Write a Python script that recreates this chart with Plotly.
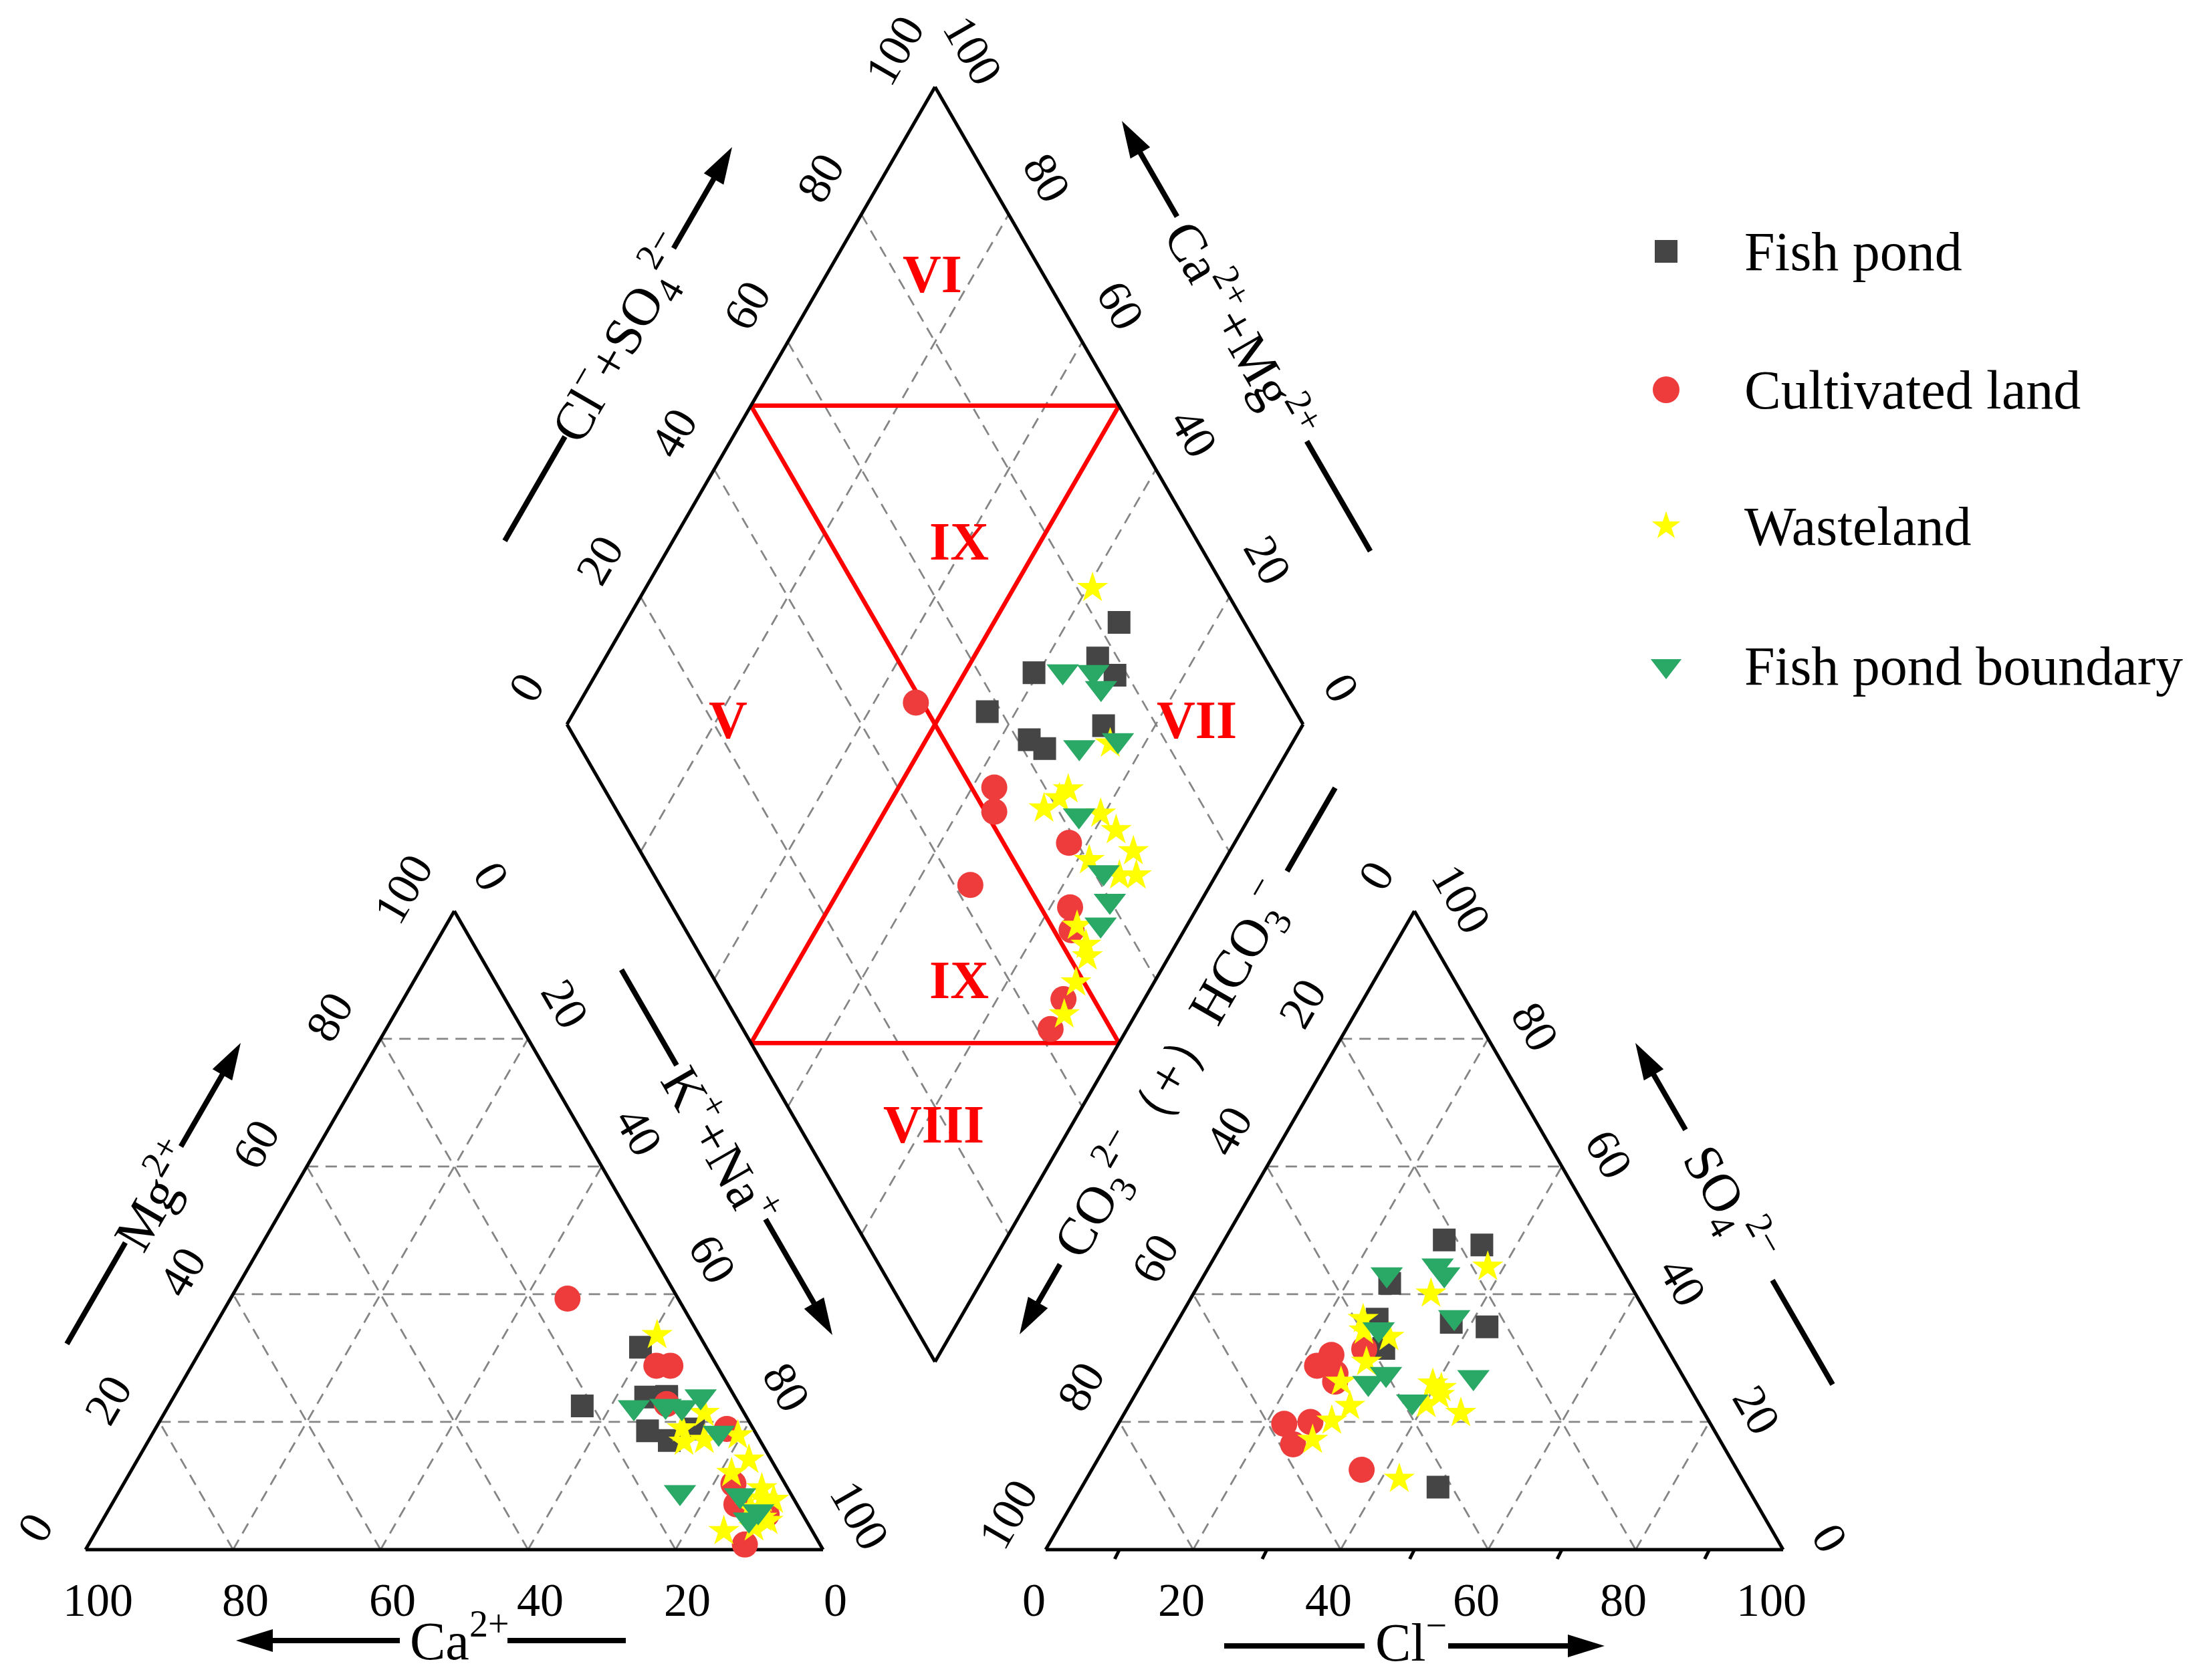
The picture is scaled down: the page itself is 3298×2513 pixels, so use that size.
import numpy as np
import plotly.graph_objects as go

W, HGT = 3298, 2513

# ---------------- data: percent of meq/L ----------------
# Fish pond
fp_ca   = [21.4, 8.9, 12.1, 9.2, 14.5, 9.4, 12.3, 8.1]
fp_mg   = [22.5, 31.7, 23.9, 24.0, 18.6, 23.6, 17.1, 18.9]
fp_nak  = [56.1, 59.4, 64.0, 66.8, 66.9, 67.0, 70.6, 73.0]
fp_hco3 = [41.9, 32.5, 38.4, 37.0, 22.7, 17.0, 21.7, 27.2]
fp_so4  = [9.8, 41.7, 31.5, 36.1, 34.9, 47.7, 48.5, 35.6]
fp_cl   = [48.3, 25.8, 30.1, 26.9, 42.4, 35.3, 29.8, 37.2]

# Cultivated land
cu_ca   = [15.0, 8.2, 6.3, 3.6, 9.8, 7.0, 8.2, 10.2, 4.9]
cu_mg   = [39.3, 28.8, 28.8, 18.9, 22.8, 10.3, 7.1, 0.8, 5.5]
cu_nak  = [45.7, 63.0, 64.9, 77.5, 67.4, 82.7, 84.7, 89.0, 89.6]
cu_hco3 = [50.9, 46.9, 48.8, 41.1, 57.8, 46.0, 47.6, 54.1, 58.2]
cu_so4  = [12.5, 27.6, 28.8, 31.4, 19.7, 30.5, 26.3, 20.0, 16.5]
cu_cl   = [36.6, 25.5, 22.4, 27.5, 22.5, 23.5, 26.1, 25.9, 25.3]

# Wasteland
ws_ca   = [5.7, 7.5, 5.4, 9.6, 10.4, 2.6, 3.0, 6.6, 6.4, 3.5, 5.8, 12.0, 4.2, 7.6, 2.8, 5.2]
ws_mg   = [33.6, 17.2, 21.4, 19.0, 16.9, 17.9, 14.1, 6.5, 12.0, 9.6, 5.0, 2.9, 8.0, 3.5, 7.8, 4.5]
ws_nak  = [60.7, 75.3, 73.2, 71.4, 72.7, 79.5, 82.9, 86.9, 81.6, 86.9, 89.2, 85.1, 87.8, 88.9, 89.4, 90.3]
ws_hco3 = [17.9, 27.7, 37.0, 41.8, 38.9, 34.5, 33.7, 33.0, 39.7, 36.8, 34.5, 46.5, 46.8, 47.5, 51.1, 55.2]
ws_so4  = [44.3, 40.1, 22.8, 29.4, 36.1, 24.2, 25.3, 21.4, 34.3, 33.3, 26.0, 11.1, 26.3, 22.5, 20.2, 17.2]
ws_cl   = [37.8, 32.2, 40.2, 28.8, 25.0, 41.3, 41.0, 45.6, 26.0, 29.9, 39.5, 42.4, 26.9, 30.0, 28.7, 27.6]

# Fish pond boundary
fb_ca   = [14.5, 10.1, 8.0, 4.6, 14.9, 5.0, 7.0, 7.7, 5.8]
fb_mg   = [22.3, 22.5, 22.3, 24.0, 9.0, 18.3, 8.5, 4.7, 6.0]
fb_nak  = [63.2, 67.4, 69.7, 71.4, 76.1, 76.7, 84.5, 87.6, 88.2]
fb_hco3 = [28.5, 24.4, 24.6, 32.2, 26.4, 37.6, 38.7, 40.1, 43.2]
fb_so4  = [27.0, 43.1, 44.5, 43.1, 36.4, 34.5, 23.2, 27.5, 26.1]
fb_cl   = [44.5, 32.5, 30.9, 24.7, 37.2, 27.9, 38.1, 32.4, 30.7]

group_names = ["Fish pond", "Cultivated land", "Wasteland", "Fish pond boundary"]
TICKS = [0, 20, 40, 60, 80, 100]
GRID = [20, 40, 60, 80]

# ---------------- geometry (pixel frame) ----------------
S = 1103.0
H = S * np.sqrt(3) / 2
CX0, CY0 = 128.0, 2318.0      # cation triangle, Ca corner
AX0, AY0 = 1564.0, 2318.0     # anion triangle, HCO3 corner
DX0, DY0 = 848.0, 1083.5      # diamond left vertex
SD = 1101.0
HD = SD * np.sqrt(3) / 2


def cat_xy(ca, mg, nak):
    ca, mg, nak = (np.asarray(v, float) for v in (ca, mg, nak))
    t = ca + mg + nak
    m, n = mg / t, nak / t
    return CX0 + S * (n + m / 2), CY0 - H * m


def an_xy(hco3, so4, cl):
    hco3, so4, cl = (np.asarray(v, float) for v in (hco3, so4, cl))
    t = hco3 + so4 + cl
    s, c = so4 / t, cl / t
    return AX0 + S * (c + s / 2), AY0 - H * s


def dia_xy(n, c):
    n, c = np.asarray(n, float), np.asarray(c, float)
    return DX0 + SD * (n + c) / 2, DY0 + HD * (n - c)


def piper_points(ca, mg, nak, hco3, so4, cl):
    cx, cy = cat_xy(ca, mg, nak)
    ax, ay = an_xy(hco3, so4, cl)
    ca, mg, nak, hco3, so4, cl = (np.asarray(v, float) for v in (ca, mg, nak, hco3, so4, cl))
    n = nak / (ca + mg + nak)
    c = (cl + so4) / (hco3 + so4 + cl)
    dx, dy = dia_xy(n, c)
    return np.concatenate([cx, ax, dx]), np.concatenate([cy, ay, dy])


fig = go.Figure()


def add_segs(segs, color, width, dash=None):
    xs, ys = [], []
    for (p, q) in segs:
        xs += [float(p[0]), float(q[0]), None]
        ys += [float(p[1]), float(q[1]), None]
    fig.add_trace(go.Scatter(x=xs, y=ys, mode="lines", hoverinfo="skip", showlegend=False,
                             line=dict(color=color, width=width, dash=dash)))


# grid lines
grid = []
for v in GRID:
    f = v / 100
    grid.append((cat_xy(1 - f, f, 0), cat_xy(0, f, 1 - f)))
    grid.append((cat_xy(1 - f, 0, f), cat_xy(0, 1 - f, f)))
    grid.append((cat_xy(f, 0, 1 - f), cat_xy(f, 1 - f, 0)))
    grid.append((an_xy(1 - f, f, 0), an_xy(0, f, 1 - f)))
    grid.append((an_xy(1 - f, 0, f), an_xy(0, 1 - f, f)))
    grid.append((an_xy(f, 0, 1 - f), an_xy(f, 1 - f, 0)))
    grid.append((dia_xy(0, f), dia_xy(1, f)))
    grid.append((dia_xy(f, 0), dia_xy(f, 1)))
add_segs(grid, "#858585", 2.8, "17px,11px")

# hydrochemical zone lines (red)
red = [(dia_xy(0, .5), dia_xy(1, .5)), (dia_xy(.5, 0), dia_xy(.5, 1)),
       (dia_xy(0, .5), dia_xy(.5, 1)), (dia_xy(.5, 0), dia_xy(1, .5))]
add_segs(red, "#ff0000", 6.5)

# outlines
outl = []
tri_c = [cat_xy(1, 0, 0), cat_xy(0, 0, 1), cat_xy(0, 1, 0)]
tri_a = [an_xy(1, 0, 0), an_xy(0, 0, 1), an_xy(0, 1, 0)]
dia = [dia_xy(0, 0), dia_xy(0, 1), dia_xy(1, 1), dia_xy(1, 0)]
for poly in (tri_c, tri_a, dia):
    for i in range(len(poly)):
        outl.append((poly[i], poly[(i + 1) % len(poly)]))
# small ticks under the anion base
for v in [10, 30, 50, 70, 90]:
    bx, by = an_xy(1 - v / 100, 0, v / 100)
    outl.append(((bx, by), (bx - 7, by + 14)))
add_segs(outl, "black", 5)

# ---------------- sample markers ----------------
series = [
    (group_names[0], (fp_ca, fp_mg, fp_nak, fp_hco3, fp_so4, fp_cl), "square", 34, "#454545"),
    (group_names[1], (cu_ca, cu_mg, cu_nak, cu_hco3, cu_so4, cu_cl), "circle", 39, "#ee3b3b"),
    (group_names[2], (ws_ca, ws_mg, ws_nak, ws_hco3, ws_so4, ws_cl), "star", 35, "#ffff00"),
    (group_names[3], (fb_ca, fb_mg, fb_nak, fb_hco3, fb_so4, fb_cl), "triangle-down", 42, "#2aa866"),
]
for name, vals, sym, size, col in series:
    x, y = piper_points(*vals)
    fig.add_trace(go.Scatter(x=x, y=y, mode="markers", name=name, showlegend=False,
                             marker=dict(symbol=sym, size=size, color=col, line=dict(width=0))))

# legend (drawn manually)
LEG_X, LEG_TX = 2492, 2607
LEG_Y = [376, 583, 787, 996]
leg_sizes = [34, 40, 32, 40]
for (name, vals, sym, size, col), ly, ls in zip(series, LEG_Y, leg_sizes):
    fig.add_trace(go.Scatter(x=[LEG_X], y=[ly], mode="markers", showlegend=False, hoverinfo="skip",
                             marker=dict(symbol=sym, size=ls, color=col, line=dict(width=0))))

FONT = "Liberation Serif"
ann = []
for name, ly in zip(group_names, LEG_Y):
    ann.append(dict(x=LEG_TX, y=ly, text=name, xanchor="left", yanchor="middle",
                    font=dict(family=FONT, size=82, color="black")))

# ---------------- tick labels ----------------
TFS = 70


def tick(x, y, txt, ang):
    ann.append(dict(x=float(x), y=float(y), text=txt, textangle=ang, xanchor="center", yanchor="middle",
                    font=dict(family=FONT, size=TFS, color="black")))


for v in TICKS:
    f = v / 100
    x, y = cat_xy(f, 0, 1 - f); tick(x + 18, y + 75, str(v), 0)          # Ca
    x, y = cat_xy(1 - f, f, 0); tick(x - 76, y - 33, str(v), -60)        # Mg
    x, y = cat_xy(0, 1 - f, f); tick(x + 55, y - 52, str(v), 60)         # Na+K
    x, y = an_xy(1 - f, 0, f); tick(x - 18, y + 75, str(v), 0)           # Cl
    x, y = an_xy(f, 1 - f, 0); tick(x - 57, y - 53, str(v), -60)         # HCO3
    x, y = an_xy(0, f, 1 - f); tick(x + 70, y - 18, str(v), 60)          # SO4
    x, y = dia_xy(0, f); tick(x - 61, y - 55, str(v), -60)               # Cl+SO4
    x, y = dia_xy(1 - f, 1); tick(x + 57, y - 55, str(v), 60)            # Ca+Mg

# ---------------- axis titles with arrows ----------------
shapes = []
HEAD_L, HEAD_W = 55, 17


def axis_title(text, tip, d, arrow_len, tpos, l0, l1, ang, tshift=(0, 0)):
    tx, ty = tip
    dx, dy = d
    nrm = np.hypot(dx, dy); dx, dy = dx / nrm, dy / nrm
    px, py = -dy, dx
    bx, by = tx + dx * HEAD_L, ty + dy * HEAD_L
    shapes.append(dict(type="path", xref="x", yref="y", line=dict(width=0), fillcolor="black",
                       path=f"M {tx},{ty} L {bx + px * HEAD_W},{by + py * HEAD_W} "
                            f"L {bx - px * HEAD_W},{by - py * HEAD_W} Z"))
    shapes.append(dict(type="line", xref="x", yref="y", x0=tx + dx * (HEAD_L - 8), y0=ty + dy * (HEAD_L - 8),
                       x1=tx + dx * arrow_len, y1=ty + dy * arrow_len, line=dict(color="black", width=8)))
    shapes.append(dict(type="line", xref="x", yref="y", x0=tx + dx * l0, y0=ty + dy * l0,
                       x1=tx + dx * l1, y1=ty + dy * l1, line=dict(color="black", width=8)))
    ann.append(dict(x=tx + dx * tpos + tshift[0], y=ty + dy * tpos + tshift[1], text=text, textangle=ang,
                    xanchor="center", yanchor="middle", font=dict(family=FONT, size=80, color="black")))


axis_title("Ca<sup>2+</sup>", (353, 2454), (1, 0), 245, 334, 406, 583, 0, (0, -6))
axis_title("Cl<sup>−</sup>", (2400, 2462), (-1, 0), 234, 290, 359, 569, 0, (0, -12))
axis_title("Mg<sup>2+</sup>", (360, 1560), (-0.5, 0.866), 179, 262, 345, 520, -60)
axis_title("K<sup>+</sup>+Na<sup>+</sup>", (1245, 1997), (-0.5, -0.866), 200, 330, 466, 631, 60)
axis_title("CO<sub>3</sub><sup>2−</sup>（+）HCO<sub>3</sub><sup>−</sup>", (1525, 1996), (0.5, -0.866),
           121, 457, 800, 944, -60)
axis_title("Cl<sup>−</sup>+SO<sub>4</sub><sup>2−</sup>", (1095, 220), (-0.5, 0.866), 175, 330, 500, 680, -60)
axis_title("Ca<sup>2+</sup>+Mg<sup>2+</sup>", (1678, 181), (0.5, 0.866), 165, 360, 553, 743, 60)
axis_title("SO<sub>4</sub><sup>2−</sup>", (2446, 1560), (0.5, 0.866), 150, 280, 410, 590, 60)

# ---------------- zone labels ----------------
zones = [("VI", 1394, 410), ("IX", 1434, 810), ("V", 1089, 1077), ("VII", 1790, 1077),
         ("IX", 1434, 1466), ("VIII", 1396, 1682)]
for txt, zx, zy in zones:
    ann.append(dict(x=zx, y=zy, text=f"<b>{txt}</b>", xanchor="center", yanchor="middle",
                    font=dict(family=FONT, size=80, color="#ff0000")))

for a in ann:
    a.setdefault("showarrow", False)
    a.setdefault("xref", "x")
    a.setdefault("yref", "y")

fig.update_layout(
    width=W, height=HGT, autosize=False,
    margin=dict(l=0, r=0, t=0, b=0, pad=0),
    paper_bgcolor="white", plot_bgcolor="white",
    xaxis=dict(range=[0, W], visible=False, fixedrange=True),
    yaxis=dict(range=[HGT, 0], visible=False, fixedrange=True),
    annotations=ann, shapes=shapes, showlegend=False,
)

fig.write_html("out.html", config={"displayModeBar": False},
               post_script="document.body.style.margin='0px';document.body.style.overflow='hidden';")
